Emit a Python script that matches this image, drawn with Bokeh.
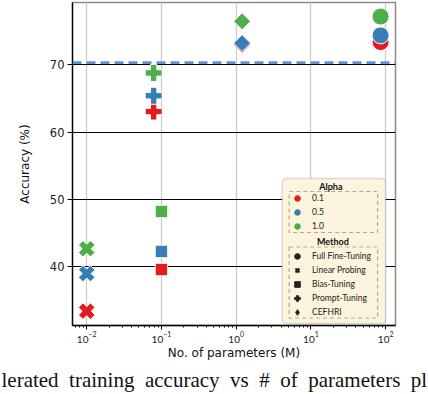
import math
from bokeh.plotting import figure
from bokeh.models import (ColumnDataSource, Range1d, FixedTicker, LogTickFormatter,
                          Span, BoxAnnotation, Label, Legend, LegendItem, Title)
from bokeh.embed import file_html
from bokeh.resources import INLINE

# ---------------- data ----------------
methods = ["Full Fine-Tuning", "Linear Probing", "Bias-Tuning", "Prompt-Tuning", "CEFHRI"]
params_m = [85.5, 0.01, 0.1, 0.0787, 1.2]
acc_alpha_01 = [73.4, 33.3, 39.5, 63.05, 73.0]
acc_alpha_05 = [74.4, 38.9, 42.2, 65.4, 73.25]
acc_alpha_10 = [77.2, 42.6, 48.15, 68.8, 76.5]
alpha_labels = ["0.1", "0.5", "1.0"]
baseline_acc = 70.35
x_ticks = [0.01, 0.1, 1, 10, 100]
y_ticks = [40, 50, 60, 70]
caption_words = ["lerated", "training", "accuracy", "vs", "#", "of", "parameters", "pl"]

# ---------------- styles ----------------
alpha_colors = ["#e41a1c", "#377eb8", "#4daf4a"]
marker_style = {
    "Full Fine-Tuning": ("circle", 0.0, 17),
    "Linear Probing": ("plus", math.pi / 4, 17),
    "Bias-Tuning": ("square", 0.0, 12.5),
    "Prompt-Tuning": ("plus", 0.0, 17),
    "CEFHRI": ("square", math.pi / 4, 12),
}
legend_marker = {
    "Full Fine-Tuning": ("circle", 1),
    "Linear Probing": ("x", 2.4),
    "Bias-Tuning": ("square", 1),
    "Prompt-Tuning": ("plus", 1),
    "CEFHRI": ("diamond", 1),
}

# pixel geometry of the reference frame (for annotation placement)
W, H = 428, 394
FL, FR, FT, FB = 70, 395, 2, 325
X_DEC0_PX, X_DEC_PX = 84.3, 75.2      # px of 1e-2, px per decade
Y70_PX, Y_PX_PER = 64.4, 6.71          # px of 70 %, px per %


def px_x(px):
    return 10 ** (-2 + (px - X_DEC0_PX) / X_DEC_PX)


def py_y(py):
    return 70 - (py - Y70_PX) / Y_PX_PER


p = figure(width=W, height=H, x_axis_type="log",
           x_range=Range1d(px_x(FL), px_x(FR)),
           y_range=Range1d(py_y(FB), py_y(FT)),
           output_backend="svg", toolbar_location=None,
           min_border_left=FL, min_border_right=W - FR,
           min_border_top=FT, min_border_bottom=H - FB)
p.background_fill_color = "white"
p.border_fill_color = "white"
p.outline_line_color = "#8a8a8a"
p.outline_line_width = 1.5

# grids
p.ygrid.ticker = FixedTicker(ticks=y_ticks)
p.ygrid.grid_line_color = "black"
p.ygrid.grid_line_width = 1
p.xgrid.grid_line_color = "#cccccc"
p.xgrid.grid_line_width = 1.3

# axes
minor = [m * 10 ** e for e in range(-3, 3) for m in range(2, 10)]
p.xaxis.ticker = FixedTicker(ticks=x_ticks, minor_ticks=minor)
p.xaxis.formatter = LogTickFormatter()
p.xaxis.major_label_text_font = "Lato"
p.xaxis.major_label_text_font_size = "10px"
p.xaxis.major_label_text_color = "#222222"
p.xaxis.major_tick_out = 4
p.xaxis.major_tick_in = 0
p.xaxis.minor_tick_out = 2
p.xaxis.minor_tick_in = 0
p.xaxis.major_label_standoff = 2
p.xaxis.axis_line_color = "black"
p.xaxis.axis_line_width = 1.3
p.xaxis.axis_label = "No. of parameters (M)"
p.xaxis.axis_label_text_font = "DejaVu Sans"
p.xaxis.axis_label_text_font_size = "12px"
p.xaxis.axis_label_text_font_style = "normal"
p.xaxis.axis_label_text_color = "#111111"
p.xaxis.axis_label_standoff = 0

p.yaxis.ticker = FixedTicker(ticks=y_ticks)
p.yaxis.major_label_text_font = "DejaVu Sans"
p.yaxis.major_label_text_font_size = "11.5px"
p.yaxis.major_label_text_color = "#222222"
p.yaxis.major_tick_out = 5
p.yaxis.major_tick_in = 0
p.yaxis.minor_tick_line_color = None
p.yaxis.major_label_standoff = 3
p.yaxis.axis_line_color = "black"
p.yaxis.axis_line_width = 1.3

# y axis label as a left-side title, shifted slightly below the frame centre
p.add_layout(Title(text="Accuracy (%)", align="center", offset=-20,
                   text_font="DejaVu Sans", text_font_size="12px",
                   text_font_style="normal", text_color="#111111", standoff=30), "left")

# caption fragment under the figure (justified text -> en spaces)
p.add_layout(Title(text="\u2002".join(caption_words), align="left", offset=-(FL + 1),
                   text_font="Liberation Serif", text_font_size="21px",
                   text_font_style="normal", text_color="#111111", standoff=6), "below")

# baseline
p.add_layout(Span(location=baseline_acc, dimension="width", line_color="#5f93d6",
                  line_width=2.7, line_dash="9 5"))

# data markers
for acc, color in zip([acc_alpha_01, acc_alpha_05, acc_alpha_10], alpha_colors):
    src = ColumnDataSource(dict(
        x=params_m, y=acc,
        marker=[marker_style[m][0] for m in methods],
        angle=[marker_style[m][1] for m in methods],
        size=[marker_style[m][2] for m in methods],
    ))
    p.scatter("x", "y", source=src, marker="marker", angle="angle", size="size",
              fill_color=color, line_color="white", line_width=1)

# legend background and boxes
p.add_layout(BoxAnnotation(left=px_x(281), right=px_x(385), top=py_y(178), bottom=py_y(323),
                           fill_color="#fcf4dc", fill_alpha=1, line_color="#8a8a8a",
                           line_width=1.5, border_radius=4))
for top_px, bot_px in [(191, 232), (246.5, 317.5)]:
    p.add_layout(BoxAnnotation(left=px_x(288), right=px_x(377), top=py_y(top_px),
                               bottom=py_y(bot_px), fill_alpha=0, line_color="black",
                               line_width=1.2, line_dash="4 3"))
for txt, cx, cy in [("Alpha", 330, 186), ("Method", 332, 240.7)]:
    p.add_layout(Label(x=px_x(cx), y=py_y(cy), text=txt, text_align="center",
                       text_baseline="middle", text_font="Lato", text_font_style="bold",
                       text_font_size="9px", text_color="#111111"))

nan = float("nan")
alpha_items = []
for lab, color in zip(alpha_labels, alpha_colors):
    r = p.scatter(x=[nan], y=[nan], marker="circle", fill_color=color, line_color=color)
    alpha_items.append(LegendItem(label=lab, renderers=[r]))
method_items = []
for m in methods:
    mk, lw = legend_marker[m]
    r = p.scatter(x=[nan], y=[nan], marker=mk, line_width=lw,
                  fill_color="#222222", line_color="#222222")
    method_items.append(LegendItem(label=m, renderers=[r]))

for items, loc in [(alpha_items, (288 - FL, FB - 233)), (method_items, (288 - FL, FB - 318.7))]:
    lg = Legend(items=items, location=loc, label_text_font="Lato",
                label_text_font_size="8.5px", label_text_color="#222222",
                glyph_height=14, glyph_width=14, label_height=14, label_standoff=8,
                spacing=0, padding=0, margin=0, border_line_color=None,
                background_fill_alpha=0)
    p.add_layout(lg)

open("out.html", "w").write(file_html(p, INLINE))
